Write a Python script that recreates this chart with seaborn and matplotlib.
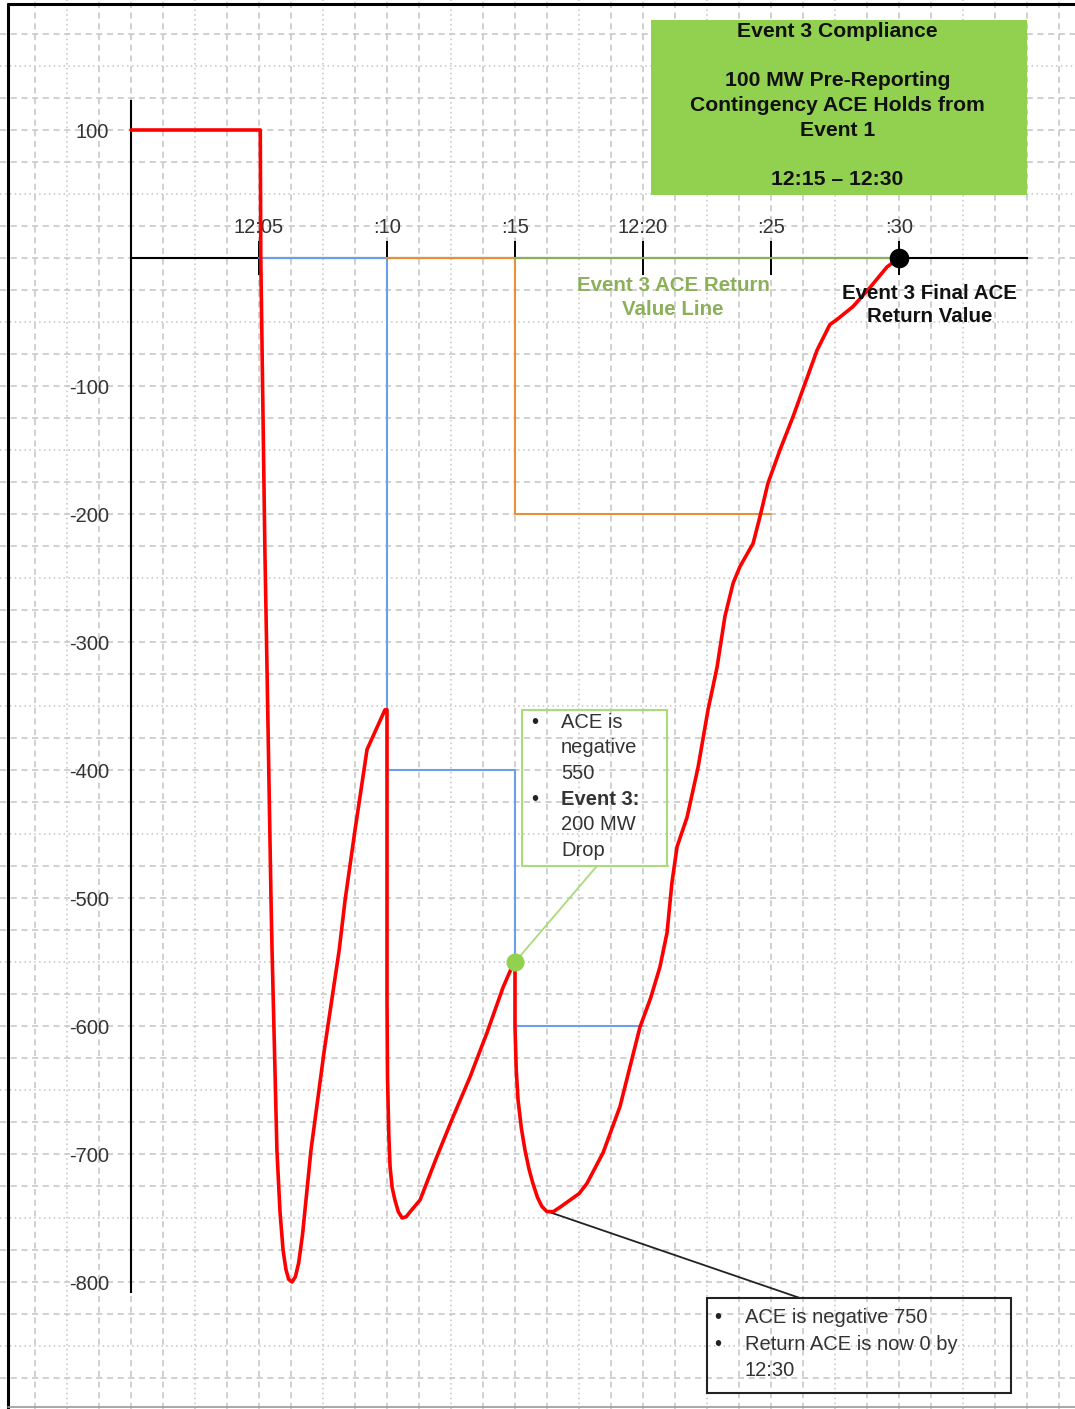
import numpy as np
import pandas as pd
import matplotlib
matplotlib.use("Agg")
import matplotlib.pyplot as plt
import seaborn as sns
from matplotlib.patches import Rectangle
from matplotlib.lines import Line2D

# --- Data: ACE trace (minutes after 12:00, MW) ---
ace_minutes = [0.0, 5.05, 5.07, 5.23, 5.30, 5.47, 5.51, 5.70, 5.82, 5.94, 6.05, 6.16, 6.29,
               6.42, 6.55, 6.70, 7.03, 7.55,
               8.13, 8.36, 8.75, 9.22, 9.92, 10.0, 10.0, 10.02, 10.07, 10.12, 10.20, 10.31,
               10.44, 10.59, 10.75, 10.95, 11.29,
               11.95, 12.58, 13.24, 13.91, 14.53, 14.92, 15.0, 15.0, 15.05, 15.12, 15.25,
               15.39, 15.55, 15.70, 15.88, 16.05, 16.25, 16.50, 16.80, 17.15, 17.50, 17.81,
               18.44, 19.10, 19.88, 20.30, 20.66, 20.94, 21.13, 21.33, 21.72,
               22.15, 22.54, 22.89, 23.20, 23.52, 23.79, 24.30, 24.57, 24.88, 25.35, 25.86,
               26.33, 26.80, 27.10, 27.30, 27.58, 28.20, 28.87, 29.53, 30.0]
ace_values = [100, 100, 0, -228, -306, -502, -541, -697, -745, -775, -790, -798, -800,
              -796, -785, -763, -697, -619,
              -541, -502, -447, -384, -353, -353, -580, -640, -685, -710, -726, -736,
              -745, -750, -749, -744, -736,
              -702, -671, -640, -605, -570, -552, -556, -601, -635, -658, -680,
              -697, -712, -723, -734, -741, -745, -745, -741, -736, -731, -723,
              -699, -663, -601, -578, -554, -527, -488, -460, -437,
              -398, -353, -320, -280, -254, -241, -223, -202, -176, -150, -124,
              -98, -72, -60, -52, -48, -38, -23, -7, 0]

# step lines (reporting / return thresholds)
blue_x = [5, 10, 10, 15, 15, 20]
blue_y = [0, 0, -400, -400, -600, -600]
orange_x = [10, 15, 15, 25]
orange_y = [0, 0, -200, -200]
green_x = [15, 30]
green_y = [0, 0]

# highlighted points
event3_drop = (15, -550)
final_ace = (30, 0)

x_ticks = [5, 10, 15, 20, 25, 30]
x_ticklabels = ["12:05", ":10", ":15", "12:20", ":25", ":30"]
y_ticks = [100, -100, -200, -300, -400, -500, -600, -700, -800]

# --- Style ---
sns.set_theme(style="white")
plt.rcParams["font.family"] = ["Liberation Sans", "DejaVu Sans"]

W, H = 1075, 1409
fig = plt.figure(figsize=(W / 100, H / 100), dpi=100)
ax = fig.add_axes([0, 0, 1, 1])
# px mapping: 25.6 px per minute, 1.28 px per MW, origin at (131, 258)
ax.set_xlim(-131 / 25.6, (W - 131) / 25.6)
ax.set_ylim(-(H - 258) / 1.28, 258 / 1.28)

GREEN = "#92d050"
GRID = "#c4c4c4"

# background grid
for gx in np.arange(-3.75, 36.5, 1.25):
    dotted = abs((gx - 2.5) % 5) < 1e-6
    ax.axvline(gx, color=GRID, lw=1.1, dashes=(1, 2.2) if dotted else (4, 3), zorder=0)
for gy in np.arange(175, -900, -25):
    dotted = abs((gy - 50) % 100) < 1e-6
    ax.axhline(gy, color=GRID, lw=1.1, dashes=(1, 2.2) if dotted else (4, 3), zorder=0)

# axes through origin
for side in ["bottom", "right"]:
    ax.spines[side].set_visible(False)
ax.spines["left"].set_position(("data", 0))
ax.spines["top"].set_position(("data", 0))
ax.spines["left"].set_bounds(-808, 123)
ax.spines["top"].set_bounds(0, 35)
for side in ["left", "top"]:
    ax.spines[side].set_color("black")
    ax.spines[side].set_linewidth(1.5)
    ax.spines[side].set_zorder(2)
ax.xaxis.tick_top()
ax.set_xticks(x_ticks)
ax.set_xticklabels(x_ticklabels)
ax.set_yticks(y_ticks)
ax.set_yticklabels([str(v) for v in y_ticks])
ax.tick_params(axis="x", direction="inout", length=24, width=1.4, color="black",
               labelsize=14.5, labelcolor="#333333", pad=3)
ax.tick_params(axis="y", direction="inout", length=26, width=1.4, color="black",
               labelsize=14.5, labelcolor="#333333", pad=3)

# step lines
ax.plot(blue_x, blue_y, color="#6d9eeb", lw=1.5, zorder=3)
ax.plot(orange_x, orange_y, color="#e69138", lw=1.5, zorder=3)
ax.plot(green_x, green_y, color="#8cb05a", lw=1.5, zorder=3)

# ACE trace
ace = pd.DataFrame({"minute": ace_minutes, "ace": ace_values})
sns.lineplot(data=ace, x="minute", y="ace", sort=False, estimator=None,
             color="#ff0000", lw=2.6, ax=ax, zorder=4)
ax.set_xlabel("")
ax.set_ylabel("")

# callout connectors
ax.add_line(Line2D([16.29, 26.13], [-745, -812.5], color="#222222", lw=1.3, zorder=3))
ax.add_line(Line2D([18.2, 15.0], [-475, -550], color="#a8dc7a", lw=1.3, zorder=3))

# points
ax.scatter([event3_drop[0]], [event3_drop[1]], s=170, color=GREEN, zorder=6, linewidths=0)
ax.scatter([final_ace[0]], [final_ace[1]], s=200, color="black", zorder=6, linewidths=0)

# top green compliance box
ax.add_patch(Rectangle((20.31, 49.2), 35.0 - 20.31, 185.9 - 49.2, facecolor=GREEN,
                       edgecolor="none", zorder=5))
ax.text(27.6, 119.1,
        "Event 3 Compliance\n\n100 MW Pre-Reporting\nContingency ACE Holds from\nEvent 1\n\n12:15 \u2013 12:30",
        ha="center", va="center", fontsize=15.2, fontweight="bold", color="#111111",
        linespacing=1.38, zorder=6)

# label texts
ax.text(21.17, -31, "Event 3 ACE Return\nValue Line", ha="center", va="center",
        fontsize=14.8, fontweight="bold", color="#8cb05a", linespacing=1.32, zorder=6)
ax.text(31.2, -36.7, "Event 3 Final ACE\nReturn Value", ha="center", va="center",
        fontsize=14.8, fontweight="bold", color="#111111", linespacing=1.32, zorder=6)

# ACE -550 callout box
ax.add_patch(Rectangle((15.27, -475), 20.94 - 15.27, 122, facecolor="none",
                       edgecolor="#a8dc7a", lw=1.5, zorder=5))
box1_lines = [("ACE is", "normal", True), ("negative", "normal", False), ("550", "normal", False),
              ("Event 3:", "bold", True), ("200 MW", "normal", False), ("Drop", "normal", False)]
for i, (txt, weight, bullet) in enumerate(box1_lines):
    yy = -362.5 - 20.1 * i
    if bullet:
        ax.text(15.78, yy, "\u2022", ha="center", va="center", fontsize=14.5, color="#222222", zorder=6)
    ax.text(16.8, yy, txt, ha="left", va="center", fontsize=14.5, fontweight=weight,
            color="#333333", zorder=6)

# ACE -750 callout box
ax.add_patch(Rectangle((22.5, -886.7), 34.375 - 22.5, 74.2, facecolor="none",
                       edgecolor="#222222", lw=1.5, zorder=5))
box2_lines = [("ACE is negative 750", True), ("Return ACE is now 0 by", True), ("12:30", False)]
for i, (txt, bullet) in enumerate(box2_lines):
    yy = -828 - 20.5 * i
    if bullet:
        ax.text(22.93, yy, "\u2022", ha="center", va="center", fontsize=14.5, color="#222222", zorder=6)
    ax.text(23.98, yy, txt, ha="left", va="center", fontsize=14.5, color="#333333", zorder=6)

# page frame
fig.add_artist(Line2D([8 / W, 8 / W], [0, 1 - 4 / H], color="black", lw=2.2))
fig.add_artist(Line2D([8 / W, 1], [1 - 4 / H, 1 - 4 / H], color="black", lw=2.2))
fig.add_artist(Line2D([8 / W, 1], [2 / H, 2 / H], color="#999999", lw=1.2))

fig.savefig("out.png", dpi=100)
